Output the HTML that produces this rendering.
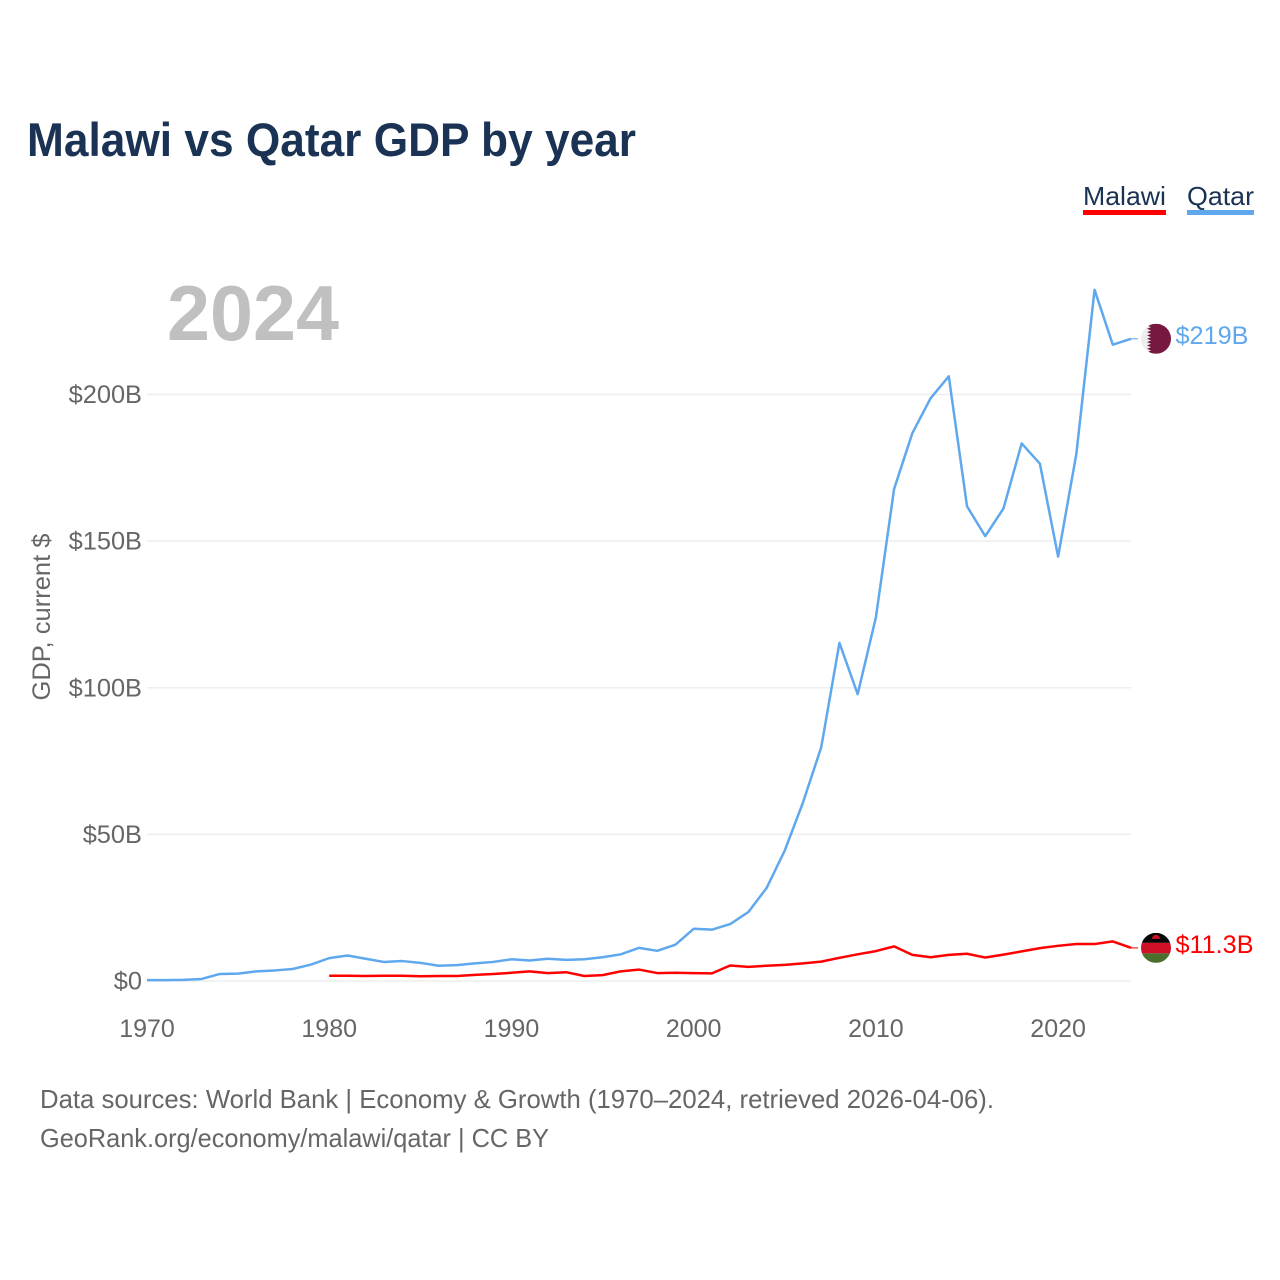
<!DOCTYPE html>
<html lang="en">
<head>
<meta charset="utf-8">
<title>Malawi vs Qatar GDP by year</title>
<style>
  html, body { margin: 0; padding: 0; background: #fff; }
  svg { display: block; font-family: "Liberation Sans", sans-serif; }
</style>
</head>
<body>
<svg id="chart" xmlns="http://www.w3.org/2000/svg" width="1280" height="1280" viewBox="0 0 1280 1280">
  <defs>
    <clipPath id="flag-clip"><circle cx="0" cy="0" r="15"></circle></clipPath>
  </defs>
  <text x="27" y="156" font-size="47" font-weight="bold" fill="#1a3253" textLength="609" lengthAdjust="spacingAndGlyphs">Malawi vs Qatar GDP by year</text>

  <text x="1083" y="205" font-size="26" fill="#1a3253" textLength="83" lengthAdjust="spacingAndGlyphs">Malawi</text>
  <rect x="1083" y="210" width="83" height="5" fill="#ff0000"></rect>
  <text x="1187" y="205" font-size="26" fill="#1a3253" textLength="67" lengthAdjust="spacingAndGlyphs">Qatar</text>
  <rect x="1187" y="210" width="67" height="5" fill="#5fa8ee"></rect>

  <text x="167" y="340" font-size="78" font-weight="bold" fill="#c0c0c0" textLength="172" lengthAdjust="spacingAndGlyphs">2024</text>

  <text transform="translate(50,617) rotate(-90)" text-anchor="middle" font-size="25" fill="#666666" textLength="167" lengthAdjust="spacingAndGlyphs">GDP, current $</text>

  <g id="grid"></g>
  <g id="y-ticks"></g>
  <g id="x-ticks"></g>
  <g id="series"></g>
  <g id="end-labels"></g>

  <text x="40" y="1108" font-size="26" fill="#666666" textLength="954" lengthAdjust="spacingAndGlyphs">Data sources: World Bank | Economy &amp; Growth (1970–2024, retrieved 2026-04-06).</text>
  <text x="40" y="1147" font-size="26" fill="#666666" textLength="509" lengthAdjust="spacingAndGlyphs">GeoRank.org/economy/malawi/qatar | CC BY</text>
</svg>
<script>
const qatarStartYear = 1970;
const qatarValues = [0.3, 0.3, 0.4, 0.7, 2.4, 2.5, 3.3, 3.6, 4.1, 5.6, 7.8, 8.7, 7.6, 6.5, 6.8, 6.2, 5.2, 5.4, 6.0, 6.5, 7.4, 7.0, 7.6, 7.2, 7.4, 8.1, 9.1, 11.3, 10.3, 12.4, 17.8, 17.5, 19.4, 23.5, 31.7, 44.5, 60.9, 79.7, 115.3, 97.8, 124.0, 167.8, 186.8, 198.7, 206.2, 161.9, 151.7, 161.1, 183.3, 176.4, 144.7, 179.7, 235.7, 217.0, 219.0];
const malawiStartYear = 1980;
const malawiValues = [1.8, 1.8, 1.7, 1.8, 1.8, 1.6, 1.7, 1.7, 2.1, 2.4, 2.8, 3.3, 2.7, 3.0, 1.7, 2.0, 3.3, 3.9, 2.7, 2.8, 2.7, 2.6, 5.3, 4.8, 5.2, 5.5, 6.0, 6.6, 7.9, 9.1, 10.2, 11.8, 8.9, 8.1, 8.9, 9.3, 8.0, 9.0, 10.1, 11.2, 12.0, 12.6, 12.6, 13.5, 11.3];
const yTickValues = [0, 50, 100, 150, 200];
const yTickLabels = ["$0", "$50B", "$100B", "$150B", "$200B"];
const xTickYears = [1970, 1980, 1990, 2000, 2010, 2020];
const qatarEndLabel = "$219B";
const malawiEndLabel = "$11.3B";

const NS = "http://www.w3.org/2000/svg";
function xScale(year) { return 147 + (year - 1970) * (984 / 54); }
function yScale(v) { return 981 - v * 2.9325; }
function make(tag, parent, attrs) {
  const el = document.createElementNS(NS, tag);
  for (const k in attrs) el.setAttribute(k, attrs[k]);
  parent.appendChild(el);
  return el;
}
const grid = document.getElementById("grid");
const yTicks = document.getElementById("y-ticks");
const xTicks = document.getElementById("x-ticks");
const series = document.getElementById("series");
const endLabels = document.getElementById("end-labels");

yTickValues.forEach(function (v, i) {
  const line = make("line", grid, { x1: xScale(1970), x2: xScale(2024), y1: yScale(v), y2: yScale(v), stroke: "#eeeeee", "stroke-width": 1.6 });
  
  
  const t = make("text", yTicks, { x: 142, y: yScale(v) + 8.5, "text-anchor": "end", "font-size": 25.4, fill: "#666666" });
  
  
  t.textContent = yTickLabels[i];
});

xTickYears.forEach(function (year) {
  const t = make("text", xTicks, { x: xScale(year), y: 1037, "text-anchor": "middle", "font-size": 25, fill: "#666666" });
  
  
  t.textContent = year;
});

function pathFor(values, startYear) {
  return values.map(function (v, i) {
    return (i ? "L" : "M") + xScale(startYear + i).toFixed(2) + " " + yScale(v).toFixed(2);
  }).join("");
}

const qatarLine = make("path", series, { d: pathFor(qatarValues, qatarStartYear), fill: "none", stroke: "#5fa8ee", "stroke-width": 2.5, "stroke-linejoin": "round" });


const malawiLine = make("path", series, { d: pathFor(malawiValues, malawiStartYear), fill: "none", stroke: "#ff0000", "stroke-width": 2.5, "stroke-linejoin": "round" });



function endMark(values, color, label, width) {
  const last = values[values.length - 1];
  const ex = xScale(2024), ey = yScale(last);
  const stub = make("line", endLabels, { x1: ex, x2: ex + 7, y1: ey, y2: ey, stroke: color, "stroke-width": 1.5, opacity: 0.7 });
  
  
  const flag = make("g", endLabels, { transform: "translate(" + (ex + 25) + " " + ey + ")", "clip-path": "url(#flag-clip)" });
  
  
  const text = make("text", endLabels, { x: ex + 44.5, y: ey + 5, "font-size": 25.4, fill: color, textLength: width, lengthAdjust: "spacingAndGlyphs" });
  
  
  text.textContent = label;
  return flag;
}

const qatarFlag = endMark(qatarValues, "#5fa8ee", qatarEndLabel, 73);
make("rect", qatarFlag, { x: -15, y: -15, width: 30, height: 30, fill: "#eeeeee" });
make("path", qatarFlag, { d: "M15 -15V15H-5L-9 13.3L-5 11.7L-9 10L-5 8.3L-9 6.7L-5 5L-9 3.3L-5 1.7L-9 0L-5 -1.7L-9 -3.3L-5 -5L-9 -6.7L-5 -8.3L-9 -10L-5 -11.7L-9 -13.3L-5 -15Z", fill: "#76183f" });

const malawiFlag = endMark(malawiValues, "#ff0000", malawiEndLabel, 78);
make("rect", malawiFlag, { x: -15, y: -15, width: 30, height: 10, fill: "#050505" });
make("rect", malawiFlag, { x: -15, y: -5, width: 30, height: 10.5, fill: "#ce1126" });
make("rect", malawiFlag, { x: -15, y: 5.5, width: 30, height: 9.5, fill: "#4b6f2d" });
make("path", malawiFlag, { d: "M-4 -9A4 4 0 0 1 4 -9Z", fill: "#ce1126" });
</script>
</body>
</html>
